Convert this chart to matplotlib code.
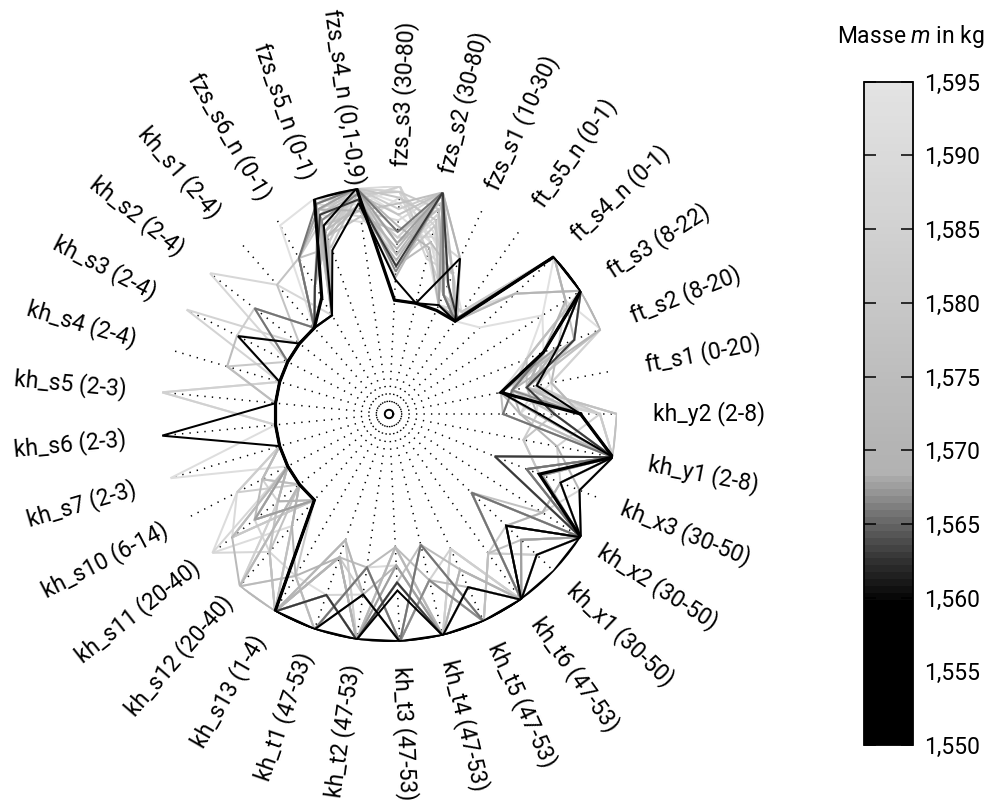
import numpy as np
import matplotlib
matplotlib.use("Agg")
import matplotlib.pyplot as plt
from matplotlib.colors import LinearSegmentedColormap, Normalize
from matplotlib.cm import ScalarMappable
from matplotlib.ticker import FuncFormatter

plt.rcParams['font.family'] = ['Roboto', 'DejaVu Sans']
plt.rcParams['mathtext.fontset'] = 'custom'
plt.rcParams['mathtext.rm'] = 'Roboto'
plt.rcParams['mathtext.it'] = 'Roboto:italic'

# Axis labels, counter-clockwise starting at 0 degrees
categories = [
    "kh_y2 (2-8)", "ft_s1 (0-20)", "ft_s2 (8-20)", "ft_s3 (8-22)", "ft_s4_n (0-1)",
    "ft_s5_n (0-1)", "fzs_s1 (10-30)", "fzs_s2 (30-80)", "fzs_s3 (30-80)",
    "fzs_s4_n (0,1-0,9)", "fzs_s5_n (0-1)", "fzs_s6_n (0-1)", "kh_s1 (2-4)",
    "kh_s2 (2-4)", "kh_s3 (2-4)", "kh_s4 (2-4)", "kh_s5 (2-3)", "kh_s6 (2-3)",
    "kh_s7 (2-3)", "kh_s10 (6-14)", "kh_s11 (20-40)", "kh_s12 (20-40)",
    "kh_s13 (1-4)", "kh_t1 (47-53)", "kh_t2 (47-53)", "kh_t3 (47-53)",
    "kh_t4 (47-53)", "kh_t5 (47-53)", "kh_t6 (47-53)", "kh_x1 (30-50)",
    "kh_x2 (30-50)", "kh_x3 (30-50)", "kh_y1 (2-8)",
]

# Mass of each sample (kg)
masses = [
    1.5500, 1.5560, 1.5585, 1.5630, 1.5655,
    1.590, 1.585, 1.592, 1.588, 1.586, 1.583, 1.580, 1.594, 1.578, 1.575,
    1.591, 1.573, 1.571, 1.589, 1.582, 1.569, 1.5665, 1.5675, 1.577, 1.593,
    1.584, 1.579, 1.587, 1.572, 1.581,
    1.574, 1.576, 1.5855, 1.5895, 1.5925, 1.5705,
]

# Parameter values of each sample, normalised to the range of each axis
samples = [
    [0.68, 0.00, 0.46, 1.00, 1.00, 0.00, 0.00, 0.00, 0.00, 1.00, 1.00,
     0.18, 0.00, 0.00, 0.00, 0.00, 0.00, 0.00, 0.00, 0.00, 0.00, 0.00,
     1.00, 1.00, 1.00, 1.00, 1.00, 1.00, 1.00, 1.00, 1.00, 0.42, 1.00],
    [0.32, 0.00, 0.46, 1.00, 1.00, 0.00, 0.50, 0.00, 0.18, 0.87, 0.52,
     0.00, 0.00, 0.00, 0.49, 0.00, 0.00, 0.00, 0.00, 0.00, 0.00, 0.00,
     1.00, 1.00, 0.60, 1.00, 1.00, 0.67, 1.00, 0.79, 1.00, 0.62, 1.00],
    [0.68, 0.32, 0.60, 1.00, 1.00, 0.00, 0.05, 0.00, 0.00, 1.00, 0.75,
     0.00, 0.00, 0.00, 0.00, 0.00, 0.00, 1.00, 0.00, 0.00, 0.00, 0.00,
     1.00, 1.00, 1.00, 0.55, 1.00, 1.00, 1.00, 0.42, 1.00, 0.80, 1.00],
    [0.45, 0.23, 0.75, 1.00, 1.00, 0.03, 0.25, 1.00, 0.30, 0.90, 0.85,
     0.30, 0.00, 0.00, 0.00, 0.00, 0.00, 0.00, 0.00, 0.00, 0.00, 0.00,
     1.00, 0.68, 1.00, 0.48, 1.00, 1.00, 1.00, 0.42, 1.00, 0.00, 1.00],
    [0.00, 0.10, 0.46, 1.00, 1.00, 0.00, 0.15, 1.00, 0.60, 1.00, 0.95,
     0.58, 0.00, 0.50, 0.00, 0.00, 0.00, 0.00, 0.00, 0.00, 0.00, 0.00,
     1.00, 1.00, 0.36, 1.00, 0.18, 1.00, 1.00, 0.00, 1.00, 0.30, 1.00],
    [1.00, 0.23, 1.00, 1.00, 0.53, 0.03, 0.15, 0.55, 1.00, 1.00, 0.70,
     0.30, 0.00, 0.00, 0.00, 0.00, 1.00, 0.00, 0.00, 0.00, 0.50, 0.00,
     1.00, 0.33, 1.00, 0.17, 1.00, 0.50, 1.00, 0.60, 1.00, 0.45, 1.00],
    [0.85, 0.00, 0.60, 0.84, 1.00, 0.00, 0.25, 0.80, 0.40, 0.75, 0.90,
     0.00, 0.00, 0.00, 0.00, 0.00, 1.00, 0.00, 0.00, 0.25, 0.24, 1.00,
     1.00, 1.00, 0.60, 1.00, 0.50, 1.00, 1.00, 0.00, 1.00, 0.62, 0.50],
    [0.45, 0.10, 0.30, 1.00, 1.00, 0.10, 0.35, 0.60, 0.85, 1.00, 0.60,
     0.00, 0.00, 0.00, 0.00, 0.00, 0.00, 0.00, 1.00, 0.00, 0.00, 0.30,
     1.00, 0.17, 1.00, 0.33, 1.00, 0.30, 1.00, 0.79, 1.00, 0.30, 1.00],
    [0.15, 0.32, 0.75, 1.00, 1.00, 0.00, 0.05, 1.00, 0.70, 0.80, 0.95,
     0.00, 0.50, 1.00, 0.00, 0.00, 0.00, 0.00, 0.00, 0.00, 0.97, 0.60,
     0.64, 1.00, 0.36, 1.00, 1.00, 0.67, 1.00, 0.42, 0.60, 0.80, 1.00],
    [0.68, 0.45, 1.00, 1.00, 0.53, 0.00, 0.35, 0.40, 0.95, 1.00, 1.00,
     0.00, 0.00, 0.00, 1.00, 0.00, 0.00, 0.00, 0.00, 0.00, 0.00, 1.00,
     1.00, 0.68, 1.00, 1.00, 0.18, 1.00, 1.00, 0.60, 1.00, 0.00, 1.00],
    [0.30, 0.00, 0.46, 1.00, 1.00, 0.03, 0.15, 1.00, 0.55, 0.90, 0.80,
     0.58, 0.00, 0.50, 0.50, 0.00, 0.00, 0.00, 0.00, 0.50, 0.00, 0.00,
     1.00, 1.00, 1.00, 0.48, 1.00, 1.00, 0.50, 0.79, 1.00, 0.42, 0.20],
    [1.00, 0.23, 0.60, 1.00, 1.00, 0.00, 0.25, 0.70, 0.30, 1.00, 0.65,
     0.30, 0.00, 0.00, 0.00, 0.48, 0.00, 0.00, 0.00, 0.00, 0.75, 0.00,
     1.00, 0.33, 0.60, 1.00, 0.50, 1.00, 1.00, 0.00, 1.00, 0.62, 1.00],
    [0.68, 0.10, 0.30, 0.60, 1.00, 0.10, 0.05, 0.45, 1.00, 0.85, 1.00,
     0.91, 0.00, 0.00, 0.00, 0.00, 0.00, 0.00, 0.00, 0.00, 0.50, 0.00,
     1.00, 1.00, 1.00, 0.17, 1.00, 0.30, 1.00, 0.42, 1.00, 0.80, 1.00],
    [0.45, 0.32, 0.46, 1.00, 1.00, 0.03, 0.50, 1.00, 0.75, 0.95, 0.55,
     0.58, 0.50, 0.00, 0.00, 0.00, 0.00, 0.00, 0.00, 0.00, 0.24, 0.60,
     1.00, 0.68, 1.00, 0.33, 1.00, 0.67, 1.00, 0.60, 1.00, 0.00, 1.00],
    [0.00, 0.00, 0.75, 0.84, 1.00, 0.00, 0.15, 0.85, 0.50, 1.00, 0.90,
     0.58, 0.00, 0.00, 0.50, 0.48, 0.00, 0.00, 0.00, 0.25, 0.00, 0.00,
     1.00, 1.00, 0.36, 1.00, 0.50, 1.00, 1.00, 0.79, 1.00, 0.45, 1.00],
    [0.85, 0.23, 0.46, 1.00, 1.00, 0.00, 0.25, 0.65, 0.90, 0.70, 0.85,
     0.00, 0.00, 0.00, 0.00, 0.00, 0.00, 0.00, 0.00, 0.50, 0.97, 0.30,
     1.00, 0.33, 1.00, 0.48, 1.00, 1.00, 1.00, 0.42, 1.00, 0.62, 1.00],
    [0.68, 0.45, 0.60, 1.00, 1.00, 0.03, 0.35, 1.00, 0.20, 0.85, 0.70,
     0.30, 0.00, 0.00, 0.00, 0.00, 0.00, 0.00, 0.00, 0.00, 0.75, 1.00,
     0.64, 1.00, 1.00, 1.00, 0.18, 0.50, 1.00, 0.00, 1.00, 0.30, 1.00],
    [0.15, 0.10, 1.00, 1.00, 0.53, 0.00, 0.05, 0.50, 0.65, 1.00, 0.95,
     0.00, 0.00, 0.00, 0.00, 0.00, 0.00, 0.00, 0.00, 0.00, 0.50, 0.00,
     1.00, 0.17, 0.60, 0.33, 1.00, 0.67, 1.00, 0.79, 1.00, 0.80, 0.50],
    [0.30, 0.00, 0.30, 1.00, 1.00, 0.10, 0.15, 0.75, 0.40, 0.90, 0.75,
     0.00, 0.00, 0.00, 0.00, 0.00, 0.00, 0.00, 0.00, 0.00, 0.24, 1.00,
     1.00, 1.00, 0.36, 1.00, 1.00, 0.30, 1.00, 0.60, 1.00, 0.42, 1.00],
    [0.85, 0.32, 0.75, 1.00, 1.00, 0.00, 0.25, 1.00, 0.80, 1.00, 0.60,
     0.00, 0.00, 0.00, 0.00, 0.00, 0.00, 0.00, 0.00, 0.25, 0.00, 1.00,
     1.00, 0.68, 1.00, 0.17, 1.00, 1.00, 0.50, 0.42, 1.00, 0.62, 1.00],
    [0.45, 0.23, 0.46, 0.84, 1.00, 0.00, 0.05, 1.00, 0.35, 0.80, 0.90,
     0.30, 0.00, 0.00, 0.00, 0.00, 0.00, 0.00, 0.00, 0.00, 0.00, 0.30,
     0.64, 0.33, 1.00, 0.48, 1.00, 0.50, 1.00, 0.79, 1.00, 0.00, 1.00],
    [0.68, 0.10, 0.46, 1.00, 1.00, 0.00, 0.15, 1.00, 0.25, 0.95, 0.80,
     0.00, 0.00, 0.00, 0.00, 0.00, 0.00, 0.00, 0.00, 0.00, 0.00, 0.00,
     1.00, 1.00, 0.60, 1.00, 0.50, 1.00, 1.00, 0.42, 1.00, 0.30, 1.00],
    [0.30, 0.00, 0.60, 1.00, 1.00, 0.03, 0.05, 1.00, 0.50, 1.00, 0.90,
     0.58, 0.00, 0.00, 0.00, 0.00, 0.00, 0.00, 0.00, 0.00, 0.50, 0.00,
     1.00, 0.68, 1.00, 0.33, 1.00, 1.00, 1.00, 0.60, 1.00, 0.45, 1.00],
    [1.00, 0.23, 1.00, 1.00, 1.00, 0.00, 0.35, 0.90, 0.60, 0.75, 0.65,
     0.30, 0.00, 0.00, 0.00, 0.00, 0.00, 0.00, 0.00, 0.00, 0.00, 0.60,
     1.00, 1.00, 0.36, 1.00, 1.00, 0.67, 1.00, 0.00, 0.60, 0.62, 1.00],
    [0.15, 0.45, 0.46, 0.60, 0.10, 0.00, 0.25, 0.55, 0.75, 1.00, 0.95,
     0.00, 0.00, 0.00, 0.00, 0.00, 0.00, 0.00, 0.00, 0.00, 0.00, 0.00,
     1.00, 0.33, 1.00, 1.00, 0.50, 1.00, 1.00, 0.79, 1.00, 0.80, 1.00],
    [0.68, 0.00, 0.75, 1.00, 1.00, 0.00, 0.15, 0.45, 1.00, 0.90, 1.00,
     0.00, 0.00, 0.00, 0.00, 0.00, 0.00, 0.00, 0.00, 0.00, 0.00, 0.30,
     1.00, 0.17, 1.00, 0.48, 1.00, 0.30, 1.00, 0.42, 1.00, 0.30, 1.00],
    [0.45, 0.10, 0.30, 1.00, 1.00, 0.03, 0.05, 0.75, 0.90, 1.00, 0.85,
     0.58, 0.00, 0.00, 0.00, 0.00, 0.00, 0.00, 0.00, 0.00, 0.24, 0.00,
     1.00, 1.00, 1.00, 1.00, 0.18, 1.00, 1.00, 0.60, 1.00, 0.42, 0.20],
    [0.85, 0.32, 0.46, 1.00, 1.00, 0.00, 0.50, 0.60, 0.55, 0.85, 0.75,
     0.30, 0.00, 0.00, 0.00, 0.00, 0.00, 0.00, 0.00, 0.00, 0.50, 0.60,
     1.00, 0.68, 0.60, 1.00, 1.00, 1.00, 0.50, 0.79, 1.00, 0.62, 1.00],
    [0.30, 0.23, 0.60, 1.00, 1.00, 0.00, 0.25, 1.00, 0.40, 1.00, 0.70,
     0.00, 0.00, 0.00, 0.00, 0.00, 0.00, 0.00, 0.00, 0.00, 0.00, 1.00,
     1.00, 0.33, 1.00, 0.17, 1.00, 0.67, 1.00, 0.00, 1.00, 0.00, 1.00],
    [0.00, 0.10, 0.46, 1.00, 1.00, 0.10, 0.15, 0.85, 0.95, 0.95, 0.90,
     0.00, 0.00, 0.00, 0.00, 0.00, 0.00, 0.00, 0.00, 0.00, 0.75, 0.00,
     0.64, 1.00, 1.00, 0.48, 1.00, 0.50, 1.00, 0.42, 1.00, 0.80, 1.00],
    [0.15, 0.00, 0.46, 1.00, 1.00, 0.00, 0.35, 0.55, 0.30, 0.95, 0.85,
     0.00, 0.00, 0.00, 0.00, 0.00, 0.00, 0.00, 0.00, 0.25, 0.50, 0.00,
     1.00, 0.33, 0.36, 0.17, 0.50, 0.67, 1.00, 0.42, 1.00, 0.62, 1.00],
    [0.68, 0.23, 0.30, 1.00, 1.00, 0.03, 0.15, 1.00, 0.85, 0.80, 0.75,
     0.30, 0.00, 0.50, 0.00, 0.00, 0.00, 0.00, 0.00, 0.00, 0.00, 0.30,
     1.00, 0.68, 1.00, 0.48, 0.18, 1.00, 0.50, 0.60, 1.00, 0.30, 1.00],
    [0.85, 0.10, 0.60, 1.00, 1.00, 0.00, 0.25, 0.70, 0.95, 1.00, 0.90,
     0.58, 0.00, 0.00, 0.00, 0.00, 0.00, 0.00, 0.00, 0.00, 0.24, 0.60,
     1.00, 0.17, 0.60, 1.00, 0.50, 0.30, 1.00, 0.79, 1.00, 0.45, 1.00],
    [0.30, 0.32, 0.75, 1.00, 0.53, 0.10, 0.05, 0.85, 0.60, 1.00, 0.95,
     0.00, 0.00, 0.00, 0.50, 0.00, 0.00, 0.00, 0.00, 0.50, 0.75, 0.00,
     1.00, 1.00, 0.36, 0.33, 1.00, 0.50, 1.00, 0.00, 1.00, 0.80, 1.00],
    [0.45, 0.45, 1.00, 0.84, 1.00, 0.00, 0.35, 0.45, 1.00, 0.90, 0.85,
     0.30, 0.00, 0.00, 0.00, 0.00, 0.00, 0.00, 0.00, 0.00, 0.00, 1.00,
     0.64, 0.68, 1.00, 0.17, 1.00, 1.00, 1.00, 0.60, 1.00, 0.00, 1.00],
    [0.68, 0.23, 0.46, 1.00, 1.00, 0.03, 0.50, 1.00, 0.45, 0.85, 0.65,
     0.00, 0.00, 0.00, 0.00, 0.00, 0.00, 0.00, 0.00, 0.00, 0.24, 0.00,
     1.00, 0.33, 1.00, 0.48, 1.00, 0.67, 1.00, 0.42, 0.60, 0.62, 1.00],
]

mass_ticks = [1.550, 1.555, 1.560, 1.565, 1.570, 1.575, 1.580, 1.585, 1.590, 1.595]

# Grey scale colour map for the mass
m_lo, m_hi = 1.550, 1.595
cmap_nodes = [
    (1.5500, 0.00), (1.5595, 0.00), (1.5605, 0.07), (1.5625, 0.20),
    (1.5650, 0.40), (1.5670, 0.58), (1.5685, 0.70), (1.5700, 0.705),
    (1.5750, 0.74), (1.5800, 0.78), (1.5850, 0.82), (1.5900, 0.855),
    (1.5950, 0.89),
]
cmap = LinearSegmentedColormap.from_list(
    "mass_grey",
    [((m - m_lo) / (m_hi - m_lo), (g, g, g)) for m, g in cmap_nodes],
    N=96,
)
norm = Normalize(vmin=m_lo, vmax=m_hi)

fig = plt.figure(figsize=(9.92, 8.0), dpi=100)

R_IN = -1.0   # radius value at the centre; 0 lies at half radius
ax = fig.add_axes([0.1623, 0.1975, 0.4597, 0.57], projection="polar")
ax.set_ylim(R_IN, 1.0)
ax.grid(False)
ax.set_xticks([])
ax.set_yticks([])
ax.spines["polar"].set_visible(False)
ax.patch.set_alpha(0)

n = len(categories)
theta = np.deg2rad(np.arange(n) * 360.0 / n)

# Dotted spokes and centre mark
for th in theta:
    ax.plot([th, th], [-0.895, 1.0], color="black", lw=1.1,
            ls=(0, (0.9, 4.0)), zorder=1)
circ = np.linspace(0, 2 * np.pi, 120)
ax.plot(circ, np.full_like(circ, -0.963), color="black", lw=1.4, zorder=1)

# Sample polylines, lightest first so that the darkest end on top
order = np.argsort(masses)[::-1]
th_closed = np.append(theta, theta[0])
darkest = int(np.argmin(masses))
for k, idx in enumerate(order):
    vals = np.asarray(samples[idx], dtype=float)
    r = np.append(vals, vals[0])
    lw = 2.3 if idx == darkest else 1.45
    ax.plot(th_closed, r, color=cmap(norm(masses[idx])), lw=lw,
            solid_joinstyle="miter", zorder=2 + k)

# Axis labels around the chart
r_label = 1.807
for th, lab in zip(theta, categories):
    deg = np.rad2deg(th)
    if 90 < deg < 270:
        rot = deg - 180
    elif deg >= 270:
        rot = deg - 360
    else:
        rot = deg
    ax.text(th, r_label, lab, rotation=rot, rotation_mode="anchor",
            ha="center", va="center", fontsize=16.5, color="black")

# Colour bar
cax = fig.add_axes([0.871, 0.0688, 0.0494, 0.829])
sm = ScalarMappable(norm=norm, cmap=cmap)
cb = fig.colorbar(sm, cax=cax, ticks=mass_ticks)
cb.outline.set_linewidth(1.3)
cax.yaxis.set_major_formatter(FuncFormatter(lambda v, p: f"{v:.3f}".replace(".", ",")))
cax.yaxis.set_ticks_position("both")
cax.tick_params(axis="y", direction="in", length=8.5, width=1.1,
                left=True, right=True, labelleft=False, labelright=True,
                labelsize=16.5, pad=8)
fig.text(0.918, 0.954, "Masse $m$ in kg", ha="center", va="center", fontsize=16.5)

fig.savefig("out.png", dpi=100)
